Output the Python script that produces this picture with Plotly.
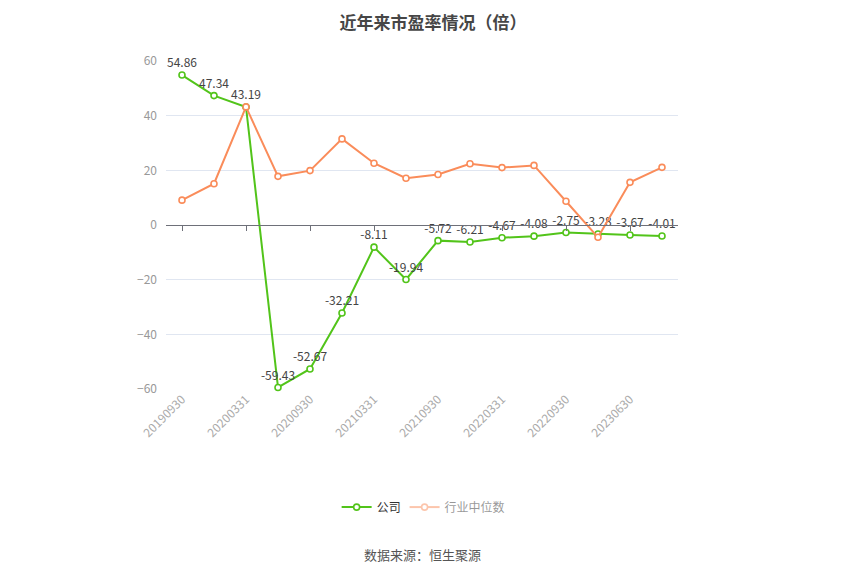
import plotly.graph_objects as go

categories = ["20190930", "20191231", "20200331", "20200630", "20200930", "20201231",
              "20210331", "20210630", "20210930", "20211231", "20220331", "20220630",
              "20220930", "20230331", "20230630", "20230930"]
company = [54.86, 47.34, 43.19, -59.43, -52.67, -32.21, -8.11, -19.94, -5.72, -6.21,
           -4.67, -4.08, -2.75, -3.28, -3.67, -4.01]
industry = [9.1, 15.1, 43.2, 17.8, 19.9, 31.5, 22.6, 17.1, 18.5, 22.4, 21.0, 21.8,
            8.7, -4.5, 15.6, 21.1]
tick_labels = categories[::2]
company_labels = [f"{v:.2f}" for v in company]

FONT = "Noto Sans CJK SC"
GREEN = "#52c41a"
ORANGE = "#fa8c5a"

fig = go.Figure()
fig.add_trace(go.Scatter(
    x=categories, y=company, name="公司", mode="lines+markers+text",
    text=company_labels, textposition="top center",
    textfont=dict(size=12, color="#444", family=FONT),
    line=dict(color=GREEN, width=2),
    marker=dict(symbol="circle", size=6, color="white", line=dict(color=GREEN, width=1.6)),
    legend="legend", cliponaxis=False,
))
fig.add_trace(go.Scatter(
    x=categories, y=industry, name="行业中位数", mode="lines+markers",
    line=dict(color=ORANGE, width=2),
    marker=dict(symbol="circle", size=6, color="white", line=dict(color=ORANGE, width=1.6)),
    xaxis="x2", showlegend=False, cliponaxis=False,
))
fig.add_trace(go.Scatter(
    x=categories, y=industry, name="行业中位数", mode="lines+markers",
    line=dict(color=ORANGE, width=2),
    marker=dict(symbol="circle", size=6, color="white", line=dict(color=ORANGE, width=1.6)),
    visible="legendonly", legend="legend2",
))

fig.update_layout(
    width=850, height=575,
    margin=dict(l=158, r=180, t=53, b=194),
    paper_bgcolor="white", plot_bgcolor="white",
    font=dict(family=FONT, size=12, color="#999"),
    title=dict(text="<b>近年来市盈率情况（倍）</b>", x=0.5, xanchor="center", y=0.984, yanchor="top",
               font=dict(size=17, color="#464646", family=FONT)),
    xaxis=dict(type="category", categoryorder="array", categoryarray=categories,
               range=[-0.5, 15.5], tickmode="array", tickvals=tick_labels, ticktext=tick_labels,
               tickangle=-45, showgrid=False, showline=False, zeroline=False, ticks="",
               tickfont=dict(size=12, color="#aaa", family=FONT)),
    xaxis2=dict(type="category", overlaying="x", matches="x", anchor="free", position=0.5,
                tickmode="array", tickvals=tick_labels, showticklabels=False,
                showline=True, linecolor="#6e7079", linewidth=1, ticks="outside",
                ticklen=5, tickcolor="#6e7079", showgrid=False, zeroline=False),
    yaxis=dict(range=[-60, 60], tickvals=[-60, -40, -20, 0, 20, 40, 60], showgrid=True,
               gridcolor="#e0e6f1", zeroline=False, showline=False, ticks="",
               tickfont=dict(size=12, color="#999", family=FONT), ticklabelstandoff=8),
    legend=dict(orientation="h", x=0.47, xanchor="right", y=-0.36, yanchor="middle",
                font=dict(size=12, color="#333", family=FONT), itemclick=False, itemdoubleclick=False),
    legend2=dict(orientation="h", x=0.466, xanchor="left", y=-0.36, yanchor="middle",
                 font=dict(size=12, color="#333", family=FONT), itemclick=False, itemdoubleclick=False),
    annotations=[dict(text="数据来源：恒生聚源", xref="paper", yref="paper", x=0.5, y=-0.506,
                      xanchor="center", yanchor="middle", showarrow=False,
                      font=dict(size=13, color="#555", family=FONT))],
)

fig.write_html("out.html")
